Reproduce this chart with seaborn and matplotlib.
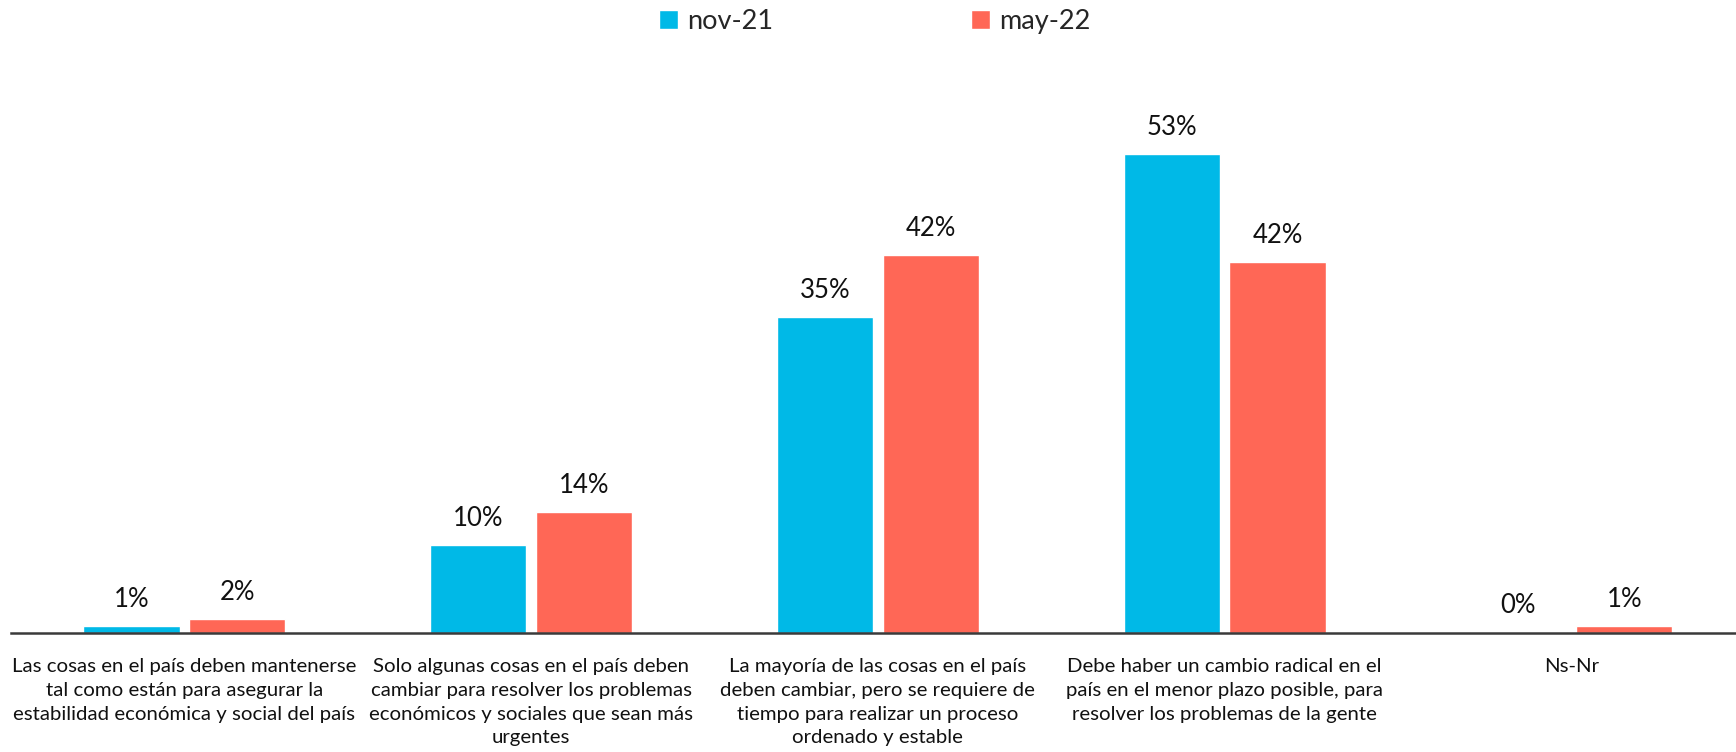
import matplotlib
matplotlib.use("Agg")
import matplotlib.pyplot as plt
import pandas as pd
import seaborn as sns

CATEGORIES = [
    "Las cosas en el país deben mantenerse\ntal como están para asegurar la\nestabilidad económica y social del país",
    "Solo algunas cosas en el país deben\ncambiar para resolver los problemas\neconómicos y sociales que sean más\nurgentes",
    "La mayoría de las cosas en el país\ndeben cambiar, pero se requiere de\ntiempo para realizar un proceso\nordenado y estable",
    "Debe haber un cambio radical en el\npaís en el menor plazo posible, para\nresolver los problemas de la gente",
    "Ns-Nr",
]
SERIES = ["nov-21", "may-22"]
NOV_21 = [0.8, 9.8, 35.0, 53.0, 0.15]
MAY_22 = [1.6, 13.4, 41.8, 41.1, 0.8]
NOV_21_LABELS = ["1%", "10%", "35%", "53%", "0%"]
MAY_22_LABELS = ["2%", "14%", "42%", "42%", "1%"]
COLORS = ["#00B9E7", "#FF6756"]

sns.set_style("white")
plt.rcParams["font.family"] = ["Lato", "DejaVu Sans"]

df = pd.DataFrame({
    "categoria": CATEGORIES * 2,
    "serie": [SERIES[0]] * len(CATEGORIES) + [SERIES[1]] * len(CATEGORIES),
    "valor": NOV_21 + MAY_22,
})

fig = plt.figure(figsize=(17.36, 7.52), dpi=100)
ax = fig.add_axes([0.0063, 0.158, 0.9937, 0.762])

sns.barplot(
    data=df, x="categoria", y="valor", hue="serie",
    palette=COLORS, width=0.61, gap=0.09, ax=ax,
    saturation=1, legend=True,
)

for container, labels in zip(ax.containers, [NOV_21_LABELS, MAY_22_LABELS]):
    ax.bar_label(container, labels=labels, padding=10, fontsize=18.5, color="#111111")

ax.set_xlim(-0.5, 4.475)
ax.set_ylim(0, 63.4)
ax.set_xlabel("")
ax.set_ylabel("")
ax.set_yticks([])
ax.tick_params(axis="x", length=0, pad=18, labelsize=14.7, labelcolor="#111111")
for tick in ax.get_xticklabels():
    tick.set_linespacing(1.48)
for name in ["top", "right", "left"]:
    ax.spines[name].set_visible(False)
ax.spines["bottom"].set_color("#3a3a3a")
ax.spines["bottom"].set_linewidth(1.8)

handles, labels = ax.get_legend_handles_labels()
ax.get_legend().remove()
fig.legend(
    handles, labels, loc="center", bbox_to_anchor=(0.504, 0.972), ncol=2,
    frameon=False, fontsize=19.5, handlelength=0.7, handleheight=0.7,
    handletextpad=0.35, columnspacing=7.3,
)

fig.savefig("out.png", dpi=100)
